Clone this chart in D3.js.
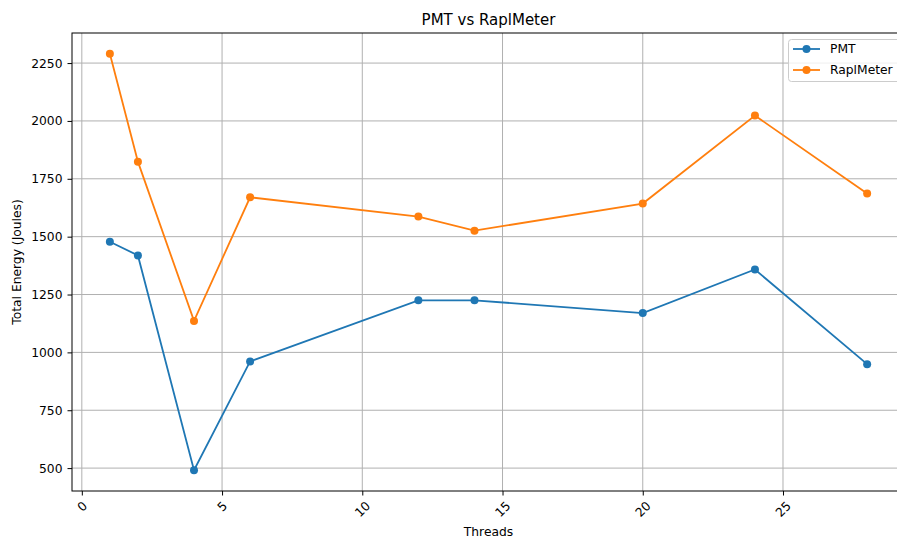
<!DOCTYPE html>
<html>
<head>
<meta charset="utf-8">
<script src="https://cdn.jsdelivr.net/npm/d3@7"></script>
<style>
  html, body { margin: 0; padding: 0; background: #fff; }
  svg { display: block; font-family: "DejaVu Sans", sans-serif; }
</style>
</head>
<body>
<svg id="chart" width="897" height="540"></svg>
<script>
const threads = [1, 2, 4, 6, 12, 14, 20, 24, 28];
const pmtValues = [1478, 1419, 491, 961, 1225, 1225, 1170, 1358, 949];
const raplValues = [2290, 1824, 1136, 1670, 1587, 1526, 1643, 2023, 1686];
const seriesNames = ["PMT", "RaplMeter"];
const xTicks = [0, 5, 10, 15, 20, 25];
const yTicks = [500, 750, 1000, 1250, 1500, 1750, 2000, 2250];
const titleText = "PMT vs RaplMeter";
const xLabel = "Threads";
const yLabel = "Total Energy (Joules)";

(function() {
const colors = ["#1f77b4", "#ff7f0e"];
const series = [pmtValues, raplValues];
const fs = 12.3;

const svg = d3.select("#chart");
const pL = 72, pR = 905, pT = 33, pB = 491;

const allX = threads;
const allY = pmtValues.concat(raplValues);
const xmin = d3.min(allX), xmax = d3.max(allX);
const ymin = d3.min(allY), ymax = d3.max(allY);
const xpad = (xmax - xmin) * 0.05, ypad = (ymax - ymin) * 0.05;

const x = d3.scaleLinear().domain([xmin - xpad, xmax + xpad]).range([pL, pR]);
const y = d3.scaleLinear().domain([ymin - ypad, ymax + ypad]).range([pB, pT]);

// grid
const grid = svg.append("g");
xTicks.forEach(t => {
  grid.append("line").attr("x1", x(t)).attr("x2", x(t)).attr("y1", pT).attr("y2", pB)
    .attr("stroke", "#b0b0b0").attr("stroke-width", 1);
});
yTicks.forEach(t => {
  grid.append("line").attr("x1", pL).attr("x2", pR).attr("y1", y(t)).attr("y2", y(t))
    .attr("stroke", "#b0b0b0").attr("stroke-width", 1);
});

// axes
const xAxis = svg.append("g").attr("transform", `translate(0,${pB})`)
  .call(d3.axisBottom(x).tickValues(xTicks).tickSize(4.5).tickPadding(4).tickFormat(d3.format("d")));
const yAxis = svg.append("g").attr("transform", `translate(${pL},0)`)
  .call(d3.axisLeft(y).tickValues(yTicks).tickSize(4.5).tickPadding(5).tickFormat(d3.format("d")));
[xAxis, yAxis].forEach(a => {
  a.select(".domain").remove();
  a.selectAll("line").attr("stroke", "#000").attr("stroke-width", 1);
  a.selectAll("text").attr("font-size", fs).attr("fill", "#000").attr("font-family", "DejaVu Sans, sans-serif");
});
xAxis.selectAll(".tick text").each(function() {
  const t = d3.select(this);
  t.attr("y", 0).attr("dy", null).attr("text-anchor", "middle").attr("dominant-baseline", "central");
  const bb = this.getBBox();
  const h = (bb.width + bb.height) * Math.SQRT1_2;
  const cy = 8 + h / 2;
  t.attr("transform", `translate(0,${cy}) rotate(-45)`);
});

// spines
svg.append("rect").attr("x", pL).attr("y", pT).attr("width", pR - pL).attr("height", pB - pT)
  .attr("fill", "none").attr("stroke", "#000").attr("stroke-width", 1);

// lines
series.forEach((vals, i) => {
  const data = threads.map((t, j) => [t, vals[j]]);
  svg.append("path").datum(data)
    .attr("fill", "none").attr("stroke", colors[i]).attr("stroke-width", 1.8)
    .attr("d", d3.line().x(d => x(d[0])).y(d => y(d[1])));
  svg.append("g").selectAll("circle").data(data).join("circle")
    .attr("cx", d => x(d[0])).attr("cy", d => y(d[1])).attr("r", 4)
    .attr("fill", colors[i]);
});

// title and labels
svg.append("text").attr("x", (pL + pR) / 2).attr("y", 25).attr("text-anchor", "middle")
  .attr("font-size", 15).attr("fill", "#000").text(titleText);
svg.append("text").attr("x", (pL + pR) / 2).attr("y", 536).attr("text-anchor", "middle")
  .attr("font-size", fs).attr("fill", "#000").text(xLabel);
svg.append("text").attr("transform", `translate(21,${(pT + pB) / 2}) rotate(-90)`)
  .attr("text-anchor", "middle").attr("font-size", fs).attr("fill", "#000").text(yLabel);

// legend
const lg = svg.append("g");
lg.append("rect").attr("x", 788.5).attr("y", 39.5).attr("width", 115).attr("height", 42).attr("rx", 3)
  .attr("fill", "#fff").attr("fill-opacity", 0.8).attr("stroke", "#cccccc").attr("stroke-width", 1);
seriesNames.forEach((n, i) => {
  const ly = 49 + i * 21;
  lg.append("line").attr("x1", 793).attr("x2", 820).attr("y1", ly).attr("y2", ly)
    .attr("stroke", colors[i]).attr("stroke-width", 1.8);
  lg.append("circle").attr("cx", 806.5).attr("cy", ly).attr("r", 4).attr("fill", colors[i]);
  lg.append("text").attr("x", 830).attr("y", ly).attr("dy", "0.35em").attr("font-size", fs)
    .attr("fill", "#000").text(n);
});
})();
</script>
</body>
</html>
